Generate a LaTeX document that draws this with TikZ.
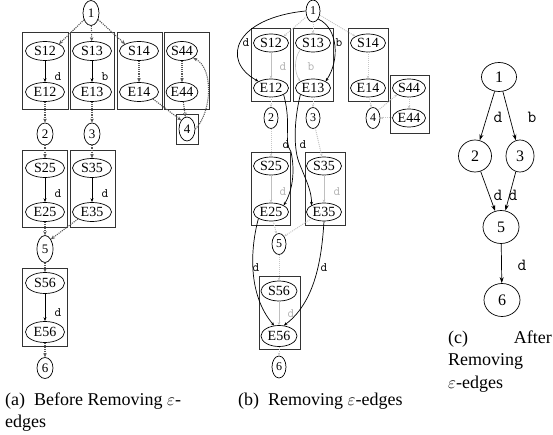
\documentclass[tikz,border=0pt]{standalone}
\usepackage{fontspec}
\setmainfont{Liberation Serif}
\usetikzlibrary{shapes.geometric,arrows.meta}
\begin{document}
\begin{tikzpicture}[x=1pt,y=-1pt,
  every node/.style={inner sep=0pt},
  ea/.style={ellipse,draw,line width=0.7pt,minimum width=39pt,minimum height=19pt,font=\fontsize{14}{14}\selectfont},
  sa/.style={ellipse,draw,line width=0.7pt,minimum width=16pt,minimum height=22pt,font=\fontsize{13}{13}\selectfont},
  eb/.style={ellipse,draw,line width=0.7pt,minimum width=35pt,minimum height=18pt,font=\fontsize{14}{14}\selectfont},
  sb/.style={ellipse,draw,line width=0.7pt,minimum width=14pt,minimum height=21pt,font=\fontsize{12}{12}\selectfont},
  nc/.style={ellipse,draw,line width=0.7pt,font=\fontsize{16}{16}\selectfont},
  frame/.style={draw=black!80,line width=0.8pt},
  eps/.style={densely dotted,line width=1.1pt,black!65,-{Stealth[length=4pt,width=3.5pt]}},
  sol/.style={line width=0.6pt,-{Stealth[length=4pt,width=3pt]}},
  geps/.style={densely dotted,line width=1pt,black!22,-{Stealth[length=3pt,width=2.5pt]}},
  gsol/.style={line width=0.6pt,black!25,-{Stealth[length=3pt,width=2.5pt]}},
  bsol/.style={line width=0.7pt,-{Stealth[length=3.5pt,width=3pt]}},
  csol/.style={line width=0.7pt,-{Stealth[length=6pt,width=4pt]}},
  lab/.style={font=\ttfamily\fontsize{13}{13}\selectfont},
  glab/.style={lab,text=black!30},
  labc/.style={font=\ttfamily\fontsize{17}{17}\selectfont},
  captxt/.style={font=\fontsize{18}{22}\selectfont,anchor=base west},
]
\useasboundingbox (0,0) rectangle (553,435);

% ---------- panel (a) ----------
\draw[frame] (22,32) rectangle (68,109);
\draw[frame] (70,32) rectangle (114,109);
\draw[frame] (117,32) rectangle (162,109);
\draw[frame] (164,32) rectangle (209,109);
\draw[frame] (176,114) rectangle (198,144);
\draw[frame] (22,150) rectangle (67,227);
\draw[frame] (70,150) rectangle (115,227);
\draw[frame] (22,268) rectangle (67,346);

\node[sa,minimum height=25pt] (a1) at (91,13) {1};
\node[ea] (aS12) at (45,51) {S12};
\node[ea] (aE12) at (45,92) {E12};
\node[ea] (aS13) at (92,51) {S13};
\node[ea] (aE13) at (92,92) {E13};
\node[ea] (aS14) at (139,51) {S14};
\node[ea] (aE14) at (139,92) {E14};
\node[ea,minimum width=31pt] (aS44) at (182,51) {S44};
\node[ea,minimum width=31pt] (aE44) at (182,92) {E44};
\node[sa,minimum height=24pt] (a4) at (187,129) {4};
\node[sa] (a2) at (45,134) {2};
\node[sa] (a3) at (92,134) {3};
\node[ea] (aS25) at (45,168) {S25};
\node[ea] (aE25) at (45,212) {E25};
\node[ea] (aS35) at (92,168) {S35};
\node[ea] (aE35) at (92,212) {E35};
\node[sa,minimum height=27pt] (a5) at (45,249) {5};
\node[ea,minimum height=21pt] (aS56) at (45,283) {S56};
\node[ea,minimum height=21pt] (aE56) at (45,332) {E56};
\node[sa,minimum height=21pt] (a6) at (45,368) {6};

\draw[eps] (a1) -- (aS12.north east);
\draw[eps] (a1) -- (aS13);
\draw[eps] (a1) -- (aS14.north west);
\draw[sol] (aS12) -- (aE12);
\draw[sol] (aS13) -- (aE13);
\draw[eps] (aS14) -- (aE14);
\draw[eps] (aS44) -- (aE44);
\draw[eps] (aE14.south east) -- (a4.north west);
\draw[eps] (aE44) -- (a4);
\draw[eps] (a4.east) .. controls (212,112) and (214,68) .. (aS44.south east);
\draw[eps] (aE12) -- (a2);
\draw[eps] (aE13) -- (a3);
\draw[eps] (a2) -- (aS25);
\draw[eps] (a3) -- (aS35);
\draw[sol] (aS25) -- (aE25);
\draw[sol] (aS35) -- (aE35);
\draw[eps] (aE25) -- (a5);
\draw[eps] (aE35.south west) -- (a5.north east);
\draw[eps] (a5) -- (aS56);
\draw[sol] (aS56) -- (aE56);
\draw[eps] (aE56) -- (a6);

\node[lab] (la1) at (58,77) {d};
\node[lab] (la2) at (105,77) {b};
\node[lab] (la3) at (58,194) {d};
\node[lab] (la4) at (105,194) {d};
\node[lab] (la5) at (58,313) {d};

% ---------- panel (b) ----------
\draw[frame] (251,28) rectangle (290,101);
\draw[frame] (293,28) rectangle (333,101);
\draw[frame] (348,28) rectangle (388,101);
\draw[frame] (390,75) rectangle (429,133);
\draw[frame] (251,152) rectangle (290,225);
\draw[frame] (305,152) rectangle (345,225);
\draw[frame] (259,276) rectangle (300,349);

\node[sb,minimum height=22pt] (b1) at (313,11) {1};
\node[eb] (bS12) at (271,43) {S12};
\node[eb] (bE12) at (271,88) {E12};
\node[eb] (bS13) at (313,43) {S13};
\node[eb] (bE13) at (313,88) {E13};
\node[eb] (bS14) at (368,43) {S14};
\node[eb] (bE14) at (368,88) {E14};
\node[eb,minimum width=33pt] (bS44) at (409,88) {S44};
\node[eb,minimum width=33pt] (bE44) at (409,118) {E44};
\node[sb] (b2) at (271,118) {2};
\node[sb] (b3) at (313,118) {3};
\node[sb] (b4) at (373,118) {4};
\node[eb] (bS25) at (271,166) {S25};
\node[eb] (bE25) at (271,212) {E25};
\node[eb] (bS35) at (324,166) {S35};
\node[eb] (bE35) at (324,212) {E35};
\node[sb] (b5) at (279,244) {5};
\node[eb,minimum width=36pt,minimum height=20pt] (bS56) at (279,291) {S56};
\node[eb,minimum width=36pt,minimum height=21pt] (bE56) at (279,336) {E56};
\node[sb,minimum height=22pt] (b6) at (279,367) {6};

\draw[geps] (b1) -- (bS12.north east);
\draw[geps] (b1) -- (bS13);
\draw[geps] (b1) -- (bS14.north west);
\draw[gsol] (bS12) -- (bE12);
\draw[gsol] (bS13.south west) .. controls (294,58) and (294,72) .. (bE13.north west);
\draw[geps] (bS14) -- (bE14);
\draw[geps] (bE14) -- (b4);
\draw[geps] (b4.north east) -- (bS44.south west);
\draw[geps] (bS44) -- (bE44);
\draw[geps] (bE44) -- (b4);
\draw[geps] (bE12) -- (b2);
\draw[geps] (bE13) -- (b3);
\draw[geps] (b2) -- (bS25);
\draw[geps] (b3) -- (bS35);
\draw[gsol] (bS25) -- (bE25);
\draw[gsol] (bS35) -- (bE35);
\draw[geps] (bE25) -- (b5);
\draw[geps] (bE35.south west) -- (b5.north east);
\draw[geps] (b5) -- (bS56);
\draw[gsol] (bS56) -- (bE56);
\draw[geps] (bE56) -- (b6);

\node[glab] (lg1) at (283,67) {d};
\node[glab] (lg2) at (311,67) {b};
\node[glab] (lg3) at (283,192) {d};
\node[glab] (lg4) at (337,192) {d};
\node[glab] (lg5) at (291,314) {d};

\draw[bsol] (b1.west) .. controls (235,18) and (220,60) .. (bE12.north west);
\draw[bsol] (b1.south east) .. controls (338,28) and (340,60) .. (bE13.north east);
\draw[bsol] (bE12.south east) .. controls (292,125) and (283,140) .. (291,152) .. controls (295,170) and (293,190) .. (bE25.north east);
\draw[bsol] (bE13.south west) .. controls (294,120) and (293,150) .. (300,165) .. controls (306,180) and (312,192) .. (bE35.north west);
\draw[bsol] (bE25.south west) .. controls (250,250) and (248,295) .. (bE56.115);
\draw[bsol] (bE35.south) .. controls (322,250) and (318,300) .. (bE56.65);

\node[lab] (lb1) at (246,43) {d};
\node[lab] (lb2) at (339,43) {b};
\node[lab] (lb3) at (286,145) {d};
\node[lab] (lb4) at (303,145) {d};
\node[lab] (lb5) at (256,268) {d};
\node[lab] (lb6) at (324,268) {d};

% ---------- panel (c) ----------
\node[nc,minimum width=35pt,minimum height=29pt] (c1) at (499,77) {1};
\node[nc,minimum width=33pt,minimum height=32pt] (c2) at (475,156) {2};
\node[nc,minimum width=28pt,minimum height=32pt] (c3) at (520,156) {3};
\node[nc,minimum width=36pt,minimum height=33pt] (c5) at (501,227) {5};
\node[nc,minimum width=36pt,minimum height=33pt] (c6) at (502,300) {6};
\draw[csol] (c1) -- (c2);
\draw[csol] (c1) -- (c3);
\draw[csol] (c2) -- (c5);
\draw[csol] (c3) -- (c5);
\draw[csol] (c5) -- (c6);
\node[labc] (lc1) at (498,117) {d};
\node[labc] (lc2) at (532,117) {b};
\node[labc] (lc3) at (498,195) {d};
\node[labc] (lc4) at (513,195) {d};
\node[labc] (lc5) at (522,265) {d};

% ---------- captions ----------
\node[captxt] (capa1) at (5,405) {(a)\ \ Before Removing $\varepsilon$-};
\node[captxt] (capa2) at (5,427) {edges};
\node[captxt] (capb) at (238,405) {(b)\ \ Removing $\varepsilon$-edges};
\node[captxt] (capc1) at (448,343) {(c)};
\node[captxt,anchor=base east] (capc1b) at (552,343) {After};
\node[captxt] (capc2) at (448,365) {Removing};
\node[captxt] (capc3) at (448,388) {$\varepsilon$-edges};
\end{tikzpicture}
\end{document}
